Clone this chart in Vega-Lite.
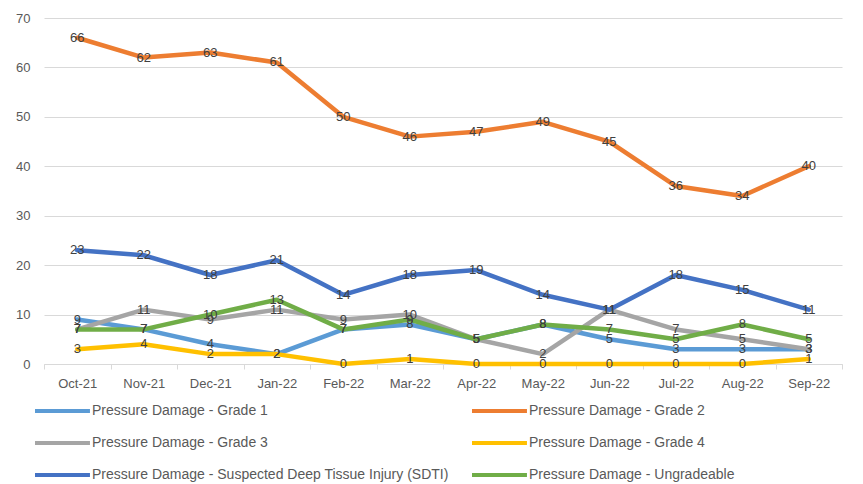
{
  "$schema": "https://vega.github.io/schema/vega-lite/v6.json",
  "width": 798,
  "height": 346,
  "autosize": {"type": "none"},
  "padding": {"left": 44, "top": 18, "right": 21, "bottom": 120},
  "background": "white",
  "config": {
    "view": {"stroke": null},
    "font": "Liberation Sans"
  },
  "data": {
    "values": [
      {"month": "Oct-21", "series": "Pressure Damage - Grade 1", "value": 9},
      {"month": "Nov-21", "series": "Pressure Damage - Grade 1", "value": 7},
      {"month": "Dec-21", "series": "Pressure Damage - Grade 1", "value": 4},
      {"month": "Jan-22", "series": "Pressure Damage - Grade 1", "value": 2},
      {"month": "Feb-22", "series": "Pressure Damage - Grade 1", "value": 7},
      {"month": "Mar-22", "series": "Pressure Damage - Grade 1", "value": 8},
      {"month": "Apr-22", "series": "Pressure Damage - Grade 1", "value": 5},
      {"month": "May-22", "series": "Pressure Damage - Grade 1", "value": 8},
      {"month": "Jun-22", "series": "Pressure Damage - Grade 1", "value": 5},
      {"month": "Jul-22", "series": "Pressure Damage - Grade 1", "value": 3},
      {"month": "Aug-22", "series": "Pressure Damage - Grade 1", "value": 3},
      {"month": "Sep-22", "series": "Pressure Damage - Grade 1", "value": 3},
      {"month": "Oct-21", "series": "Pressure Damage - Grade 2", "value": 66},
      {"month": "Nov-21", "series": "Pressure Damage - Grade 2", "value": 62},
      {"month": "Dec-21", "series": "Pressure Damage - Grade 2", "value": 63},
      {"month": "Jan-22", "series": "Pressure Damage - Grade 2", "value": 61},
      {"month": "Feb-22", "series": "Pressure Damage - Grade 2", "value": 50},
      {"month": "Mar-22", "series": "Pressure Damage - Grade 2", "value": 46},
      {"month": "Apr-22", "series": "Pressure Damage - Grade 2", "value": 47},
      {"month": "May-22", "series": "Pressure Damage - Grade 2", "value": 49},
      {"month": "Jun-22", "series": "Pressure Damage - Grade 2", "value": 45},
      {"month": "Jul-22", "series": "Pressure Damage - Grade 2", "value": 36},
      {"month": "Aug-22", "series": "Pressure Damage - Grade 2", "value": 34},
      {"month": "Sep-22", "series": "Pressure Damage - Grade 2", "value": 40},
      {"month": "Oct-21", "series": "Pressure Damage - Grade 3", "value": 7},
      {"month": "Nov-21", "series": "Pressure Damage - Grade 3", "value": 11},
      {"month": "Dec-21", "series": "Pressure Damage - Grade 3", "value": 9},
      {"month": "Jan-22", "series": "Pressure Damage - Grade 3", "value": 11},
      {"month": "Feb-22", "series": "Pressure Damage - Grade 3", "value": 9},
      {"month": "Mar-22", "series": "Pressure Damage - Grade 3", "value": 10},
      {"month": "Apr-22", "series": "Pressure Damage - Grade 3", "value": 5},
      {"month": "May-22", "series": "Pressure Damage - Grade 3", "value": 2},
      {"month": "Jun-22", "series": "Pressure Damage - Grade 3", "value": 11},
      {"month": "Jul-22", "series": "Pressure Damage - Grade 3", "value": 7},
      {"month": "Aug-22", "series": "Pressure Damage - Grade 3", "value": 5},
      {"month": "Sep-22", "series": "Pressure Damage - Grade 3", "value": 3},
      {"month": "Oct-21", "series": "Pressure Damage - Grade 4", "value": 3},
      {"month": "Nov-21", "series": "Pressure Damage - Grade 4", "value": 4},
      {"month": "Dec-21", "series": "Pressure Damage - Grade 4", "value": 2},
      {"month": "Jan-22", "series": "Pressure Damage - Grade 4", "value": 2},
      {"month": "Feb-22", "series": "Pressure Damage - Grade 4", "value": 0},
      {"month": "Mar-22", "series": "Pressure Damage - Grade 4", "value": 1},
      {"month": "Apr-22", "series": "Pressure Damage - Grade 4", "value": 0},
      {"month": "May-22", "series": "Pressure Damage - Grade 4", "value": 0},
      {"month": "Jun-22", "series": "Pressure Damage - Grade 4", "value": 0},
      {"month": "Jul-22", "series": "Pressure Damage - Grade 4", "value": 0},
      {"month": "Aug-22", "series": "Pressure Damage - Grade 4", "value": 0},
      {"month": "Sep-22", "series": "Pressure Damage - Grade 4", "value": 1},
      {"month": "Oct-21", "series": "Pressure Damage - Suspected Deep Tissue Injury (SDTI)", "value": 23},
      {"month": "Nov-21", "series": "Pressure Damage - Suspected Deep Tissue Injury (SDTI)", "value": 22},
      {"month": "Dec-21", "series": "Pressure Damage - Suspected Deep Tissue Injury (SDTI)", "value": 18},
      {"month": "Jan-22", "series": "Pressure Damage - Suspected Deep Tissue Injury (SDTI)", "value": 21},
      {"month": "Feb-22", "series": "Pressure Damage - Suspected Deep Tissue Injury (SDTI)", "value": 14},
      {"month": "Mar-22", "series": "Pressure Damage - Suspected Deep Tissue Injury (SDTI)", "value": 18},
      {"month": "Apr-22", "series": "Pressure Damage - Suspected Deep Tissue Injury (SDTI)", "value": 19},
      {"month": "May-22", "series": "Pressure Damage - Suspected Deep Tissue Injury (SDTI)", "value": 14},
      {"month": "Jun-22", "series": "Pressure Damage - Suspected Deep Tissue Injury (SDTI)", "value": 11},
      {"month": "Jul-22", "series": "Pressure Damage - Suspected Deep Tissue Injury (SDTI)", "value": 18},
      {"month": "Aug-22", "series": "Pressure Damage - Suspected Deep Tissue Injury (SDTI)", "value": 15},
      {"month": "Sep-22", "series": "Pressure Damage - Suspected Deep Tissue Injury (SDTI)", "value": 11},
      {"month": "Oct-21", "series": "Pressure Damage - Ungradeable", "value": 7},
      {"month": "Nov-21", "series": "Pressure Damage - Ungradeable", "value": 7},
      {"month": "Dec-21", "series": "Pressure Damage - Ungradeable", "value": 10},
      {"month": "Jan-22", "series": "Pressure Damage - Ungradeable", "value": 13},
      {"month": "Feb-22", "series": "Pressure Damage - Ungradeable", "value": 7},
      {"month": "Mar-22", "series": "Pressure Damage - Ungradeable", "value": 9},
      {"month": "Apr-22", "series": "Pressure Damage - Ungradeable", "value": 5},
      {"month": "May-22", "series": "Pressure Damage - Ungradeable", "value": 8},
      {"month": "Jun-22", "series": "Pressure Damage - Ungradeable", "value": 7},
      {"month": "Jul-22", "series": "Pressure Damage - Ungradeable", "value": 5},
      {"month": "Aug-22", "series": "Pressure Damage - Ungradeable", "value": 8},
      {"month": "Sep-22", "series": "Pressure Damage - Ungradeable", "value": 5}
    ]
  },
  "encoding": {
    "x": {
      "field": "month",
      "type": "ordinal",
      "sort": null,
      "scale": {"type": "band", "paddingInner": 0, "paddingOuter": 0},
      "axis": {
        "title": null,
        "labelAngle": 0,
        "labelFontSize": 13,
        "labelColor": "#595959",
        "labelPadding": 8,
        "domainColor": "#D9D9D9",
        "domainWidth": 1,
        "tickColor": "#D9D9D9",
        "tickSize": 5,
        "tickBand": "extent",
        "grid": false
      }
    },
    "y": {
      "field": "value",
      "type": "quantitative",
      "scale": {"domain": [0, 70], "nice": false},
      "axis": {
        "title": null,
        "values": [0, 10, 20, 30, 40, 50, 60, 70],
        "labelFontSize": 13,
        "labelColor": "#595959",
        "labelPadding": 14,
        "domain": false,
        "ticks": false,
        "gridColor": "#D9D9D9",
        "gridWidth": 1
      }
    }
  },
  "layer": [
    {
      "mark": {"type": "line", "strokeWidth": 4.5, "strokeCap": "round", "strokeJoin": "round"},
      "encoding": {
        "color": {
          "field": "series",
          "type": "nominal",
          "scale": {
            "domain": [
              "Pressure Damage - Grade 1",
              "Pressure Damage - Grade 2",
              "Pressure Damage - Grade 3",
              "Pressure Damage - Grade 4",
              "Pressure Damage - Suspected Deep Tissue Injury (SDTI)",
              "Pressure Damage - Ungradeable"
            ],
            "range": ["#5B9BD5", "#ED7D31", "#A5A5A5", "#FFC000", "#4472C4", "#70AD47"]
          },
          "legend": {
            "title": null,
            "orient": "none",
            "direction": "horizontal",
            "legendX": -11,
            "legendY": 379,
            "columns": 2,
            "symbolType": "M-1,0H3.58",
            "symbolSize": 576,
            "symbolStrokeWidth": 4,
            "symbolStrokeCap": "round",
            "labelFontSize": 14,
            "labelColor": "#595959",
            "labelOffset": 31,
            "labelLimit": 0,
            "rowPadding": 10,
            "columnPadding": 15
          }
        }
      }
    },
    {
      "mark": {"type": "text", "fontSize": 13, "color": "#404040", "baseline": "middle", "align": "center"},
      "encoding": {
        "text": {"field": "value", "type": "quantitative"}
      }
    }
  ]
}
